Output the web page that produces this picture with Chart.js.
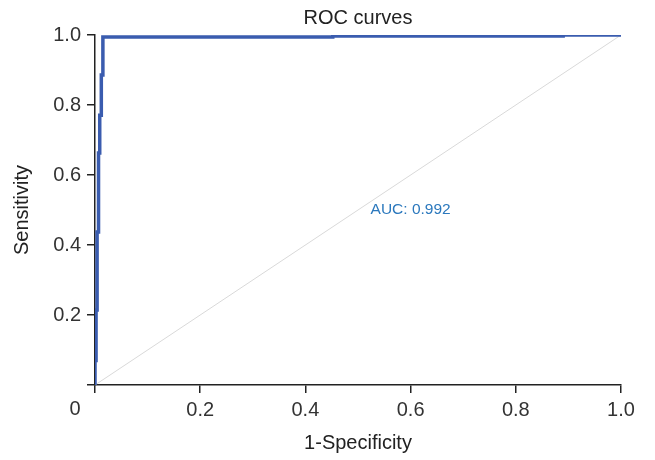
<!DOCTYPE html>
<html>
<head>
<meta charset="utf-8">
<script src="https://cdn.jsdelivr.net/npm/chart.js@4"></script>
<style>
  body { margin: 0; background: #fff; }
  #wrap { width: 655px; height: 460px; }
</style>
</head>
<body>
<div id="wrap"><canvas id="roc-chart"></canvas></div>
<script>
// ROC curve (1-specificity, sensitivity)
const fprValues = [0, 0, 0.002, 0.002, 0.004, 0.004, 0.0067, 0.0067, 0.009, 0.009, 0.012, 0.012, 0.015, 0.015, 0.452, 0.452, 0.89, 0.89, 1];
const tprValues = [0, 0.07, 0.07, 0.214, 0.214, 0.437, 0.437, 0.663, 0.663, 0.771, 0.771, 0.886, 0.886, 0.994, 0.994, 0.997, 0.997, 1.0, 1.0];
// reference diagonal
const diagX = [0, 1];
const diagY = [0, 1];
const tickValues = [0, 0.2, 0.4, 0.6, 0.8, 1.0];
const aucText = 'AUC: 0.992';

const axisColor = '#222';
const textColor = '#333';
const font = 'Liberation Sans, Arial, sans-serif';

// AUC label and the shared "0" at the corner
const labelsPlugin = {
    id: 'labels',
    afterDatasetsDraw(chart) {
        const ctx = chart.ctx;
        const x = chart.scales.x;
        const y = chart.scales.y;
        ctx.save();
        ctx.textAlign = 'center';
        ctx.textBaseline = 'middle';
        ctx.fillStyle = '#2b78bd';
        ctx.font = '15.5px ' + font;
        ctx.fillText(aucText, x.getPixelForValue(0.6), y.getPixelForValue(0.5));
        ctx.fillStyle = textColor;
        ctx.font = '20px ' + font;
        ctx.fillText('0', x.getPixelForValue(0) - 20, y.getPixelForValue(0) + 24);
        ctx.restore();
    }
};

new Chart(document.querySelector('#roc-chart').getContext('2d'), {
    type: 'line',
    data: {
        datasets: [
            {
                data: fprValues.map((v, i) => ({ x: v, y: tprValues[i] })),
                borderColor: '#3a5caf',
                borderWidth: 3.5,
                pointRadius: 0,
                tension: 0
            },
            {
                data: diagX.map((v, i) => ({ x: v, y: diagY[i] })),
                borderColor: '#d9d9d9',
                borderWidth: 1,
                pointRadius: 0
            }
        ]
    },
    options: {
        responsive: true,
        maintainAspectRatio: false,
        animation: false,
        layout: { padding: { right: 34 } },
        plugins: {
            legend: { display: false },
            tooltip: { enabled: false },
            title: {
                display: true,
                text: 'ROC curves',
                fullSize: false,
                color: axisColor,
                font: { family: font, size: 20, weight: 'normal' },
                padding: { top: 6, bottom: 5 }
            }
        },
        scales: {
            x: {
                type: 'linear',
                min: 0,
                max: 1,
                afterFit: s => { s.height = 75; },
                afterBuildTicks: s => { s.ticks = tickValues.map(v => ({ value: v })); },
                border: { display: true, color: axisColor, width: 1.5 },
                grid: { drawOnChartArea: false, drawTicks: true, tickLength: 8, color: axisColor, lineWidth: 1.5 },
                ticks: {
                    color: textColor,
                    padding: 5,
                    maxRotation: 0,
                    font: { family: font, size: 20 },
                    callback: v => v === 0 ? '' : v.toFixed(1)
                },
                title: {
                    display: true,
                    text: '1-Specificity',
                    color: axisColor,
                    font: { family: font, size: 20 },
                    padding: { bottom: 5 }
                }
            },
            y: {
                min: 0,
                max: 1,
                afterFit: s => { s.width = 95; },
                afterBuildTicks: s => { s.ticks = tickValues.map(v => ({ value: v })); },
                border: { display: true, color: axisColor, width: 1.5 },
                grid: { drawOnChartArea: false, drawTicks: true, tickLength: 8, color: axisColor, lineWidth: 1.5 },
                ticks: {
                    color: textColor,
                    padding: 6,
                    font: { family: font, size: 20 },
                    callback: v => v === 0 ? '' : v.toFixed(1)
                },
                title: {
                    display: true,
                    text: 'Sensitivity',
                    color: axisColor,
                    font: { family: font, size: 20 },
                    padding: { top: 10 }
                }
            }
        }
    },
    plugins: [labelsPlugin]
});
</script>
</body>
</html>
